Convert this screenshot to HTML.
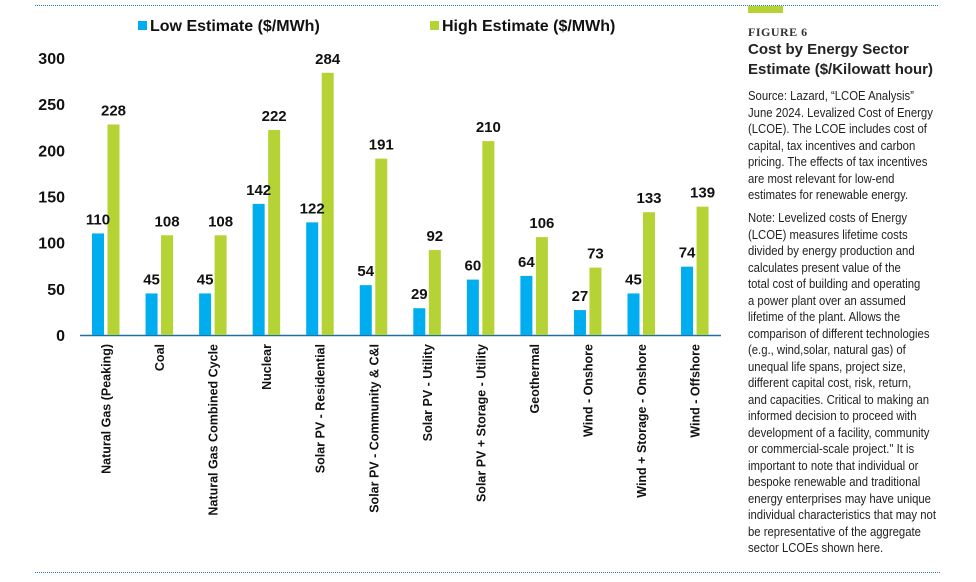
<!DOCTYPE html>
<html><head><meta charset="utf-8">
<style>
body{margin:0;width:976px;height:582px;background:#fff;position:relative;overflow:hidden;font-family:"Liberation Sans",sans-serif;}
.dot{position:absolute;height:0;border-top:1.5px dotted #2a7db5;}
#side{position:absolute;left:748px;top:0;width:228px;}
.body{font-family:"Liberation Sans Narrow","Liberation Sans",sans-serif;font-size:13px;line-height:16.5px;color:#222;position:absolute;left:0;white-space:nowrap;transform:scaleX(0.87);transform-origin:0 0;}
</style></head><body>
<div class="dot" style="left:35px;top:5px;width:903px"></div>
<div class="dot" style="left:35px;top:572px;width:905px"></div>
<div style="position:absolute;left:748px;top:6px;width:35px;height:7px;background:#b5d334"></div>
<div id="side">
 <div style="position:absolute;top:25px;font-family:'Liberation Serif',serif;font-weight:bold;font-size:12px;color:#333;letter-spacing:0.5px">FIGURE 6</div>
 <div style="position:absolute;top:40px;font-weight:bold;font-size:15px;line-height:20px;color:#222;white-space:nowrap">Cost by Energy Sector<br>Estimate (&#36;/Kilowatt hour)</div>
 <div class="body" style="top:88px">Source: Lazard, “LCOE Analysis”<br>June 2024. Levalized Cost of Energy<br>(LCOE). The LCOE includes cost of<br>capital, tax incentives and carbon<br>pricing. The effects of tax incentives<br>are most relevant for low-end<br>estimates for renewable energy.</div>
 <div class="body" style="top:210px">Note: Levelized costs of Energy<br>(LCOE) measures lifetime costs<br>divided by energy production and<br>calculates present value of the<br>total cost of building and operating<br>a power plant over an assumed<br>lifetime of the plant. Allows the<br>comparison of different technologies<br>(e.g., wind,solar, natural gas) of<br>unequal life spans, project size,<br>different capital cost, risk, return,<br>and capacities. Critical to making an<br>informed decision to proceed with<br>development of a facility, community<br>or commercial-scale project." It is<br>important to note that individual or<br>bespoke renewable and traditional<br>energy enterprises may have unique<br>individual characteristics that may not<br>be representative of the aggregate<br>sector LCOEs shown here.</div>
</div>
<svg id="chart" width="740" height="582" style="position:absolute;left:0;top:0" font-family="Liberation Sans, sans-serif" font-weight="bold">
 <rect x="138" y="21" width="9" height="9" fill="#00aeef"/>
 <text x="150" y="31" font-size="16" fill="#111">Low Estimate ($/MWh)</text>
 <rect x="430" y="21" width="9" height="9" fill="#b5d334"/>
 <text x="442" y="31" font-size="16" fill="#111">High Estimate ($/MWh)</text>
 <g id="g"></g>
</svg>
<script>
const categories=["Natural Gas (Peaking)","Coal","Natural Gas Combined Cycle","Nuclear","Solar PV - Residential","Solar PV - Community & C&I","Solar PV - Utility","Solar PV + Storage - Utility","Geothermal","Wind - Onshore","Wind + Storage - Onshore","Wind - Offshore"];
const lowValues=[110,45,45,142,122,54,29,60,64,27,45,74];
const highValues=[228,108,108,222,284,191,92,210,106,73,133,139];
const yTicks=[0,50,100,150,200,250,300];
const NS="http://www.w3.org/2000/svg";
const g=document.getElementById('g');
const y0=335,pxPer=277/300;
const y=v=>y0-v*pxPer;
const x=i=>92+i*53.55;
function mk(t,a){const e=document.createElementNS(NS,t);for(const k in a)e.setAttribute(k,a[k]);g.appendChild(e);return e;}
yTicks.forEach(t=>{const e=mk('text',{x:65,y:y(t)+6,'text-anchor':'end','font-size':16,fill:'#111'});e.textContent=t;

});
const ax=mk('line',{x1:80,x2:721,y1:y0+0.5,y2:y0+0.5,stroke:'#1f6fa0','stroke-width':1.5});


categories.forEach((c,i)=>{
 const xl=x(i),xh=x(i)+15.5;
 const b1=mk('rect',{x:xl,y:y(lowValues[i]),width:12,height:lowValues[i]*pxPer,fill:'#00aeef'});
 
 
 const b2=mk('rect',{x:xh,y:y(highValues[i]),width:12,height:highValues[i]*pxPer,fill:'#b5d334'});
 
 
 const t1=mk('text',{x:xl+6,y:y(lowValues[i])-9,'text-anchor':'middle','font-size':15,fill:'#111'});t1.textContent=lowValues[i];
 
 
 const t2=mk('text',{x:xh+6,y:y(highValues[i])-9,'text-anchor':'middle','font-size':15,fill:'#111'});t2.textContent=highValues[i];
 
 
 const cx=xl+14+4.5;
 const l=mk('text',{transform:`translate(${cx},344) rotate(-90)`,'text-anchor':'end','font-size':12.5,fill:'#111'});l.textContent=c;
 
 
});
</script>
</body></html>
